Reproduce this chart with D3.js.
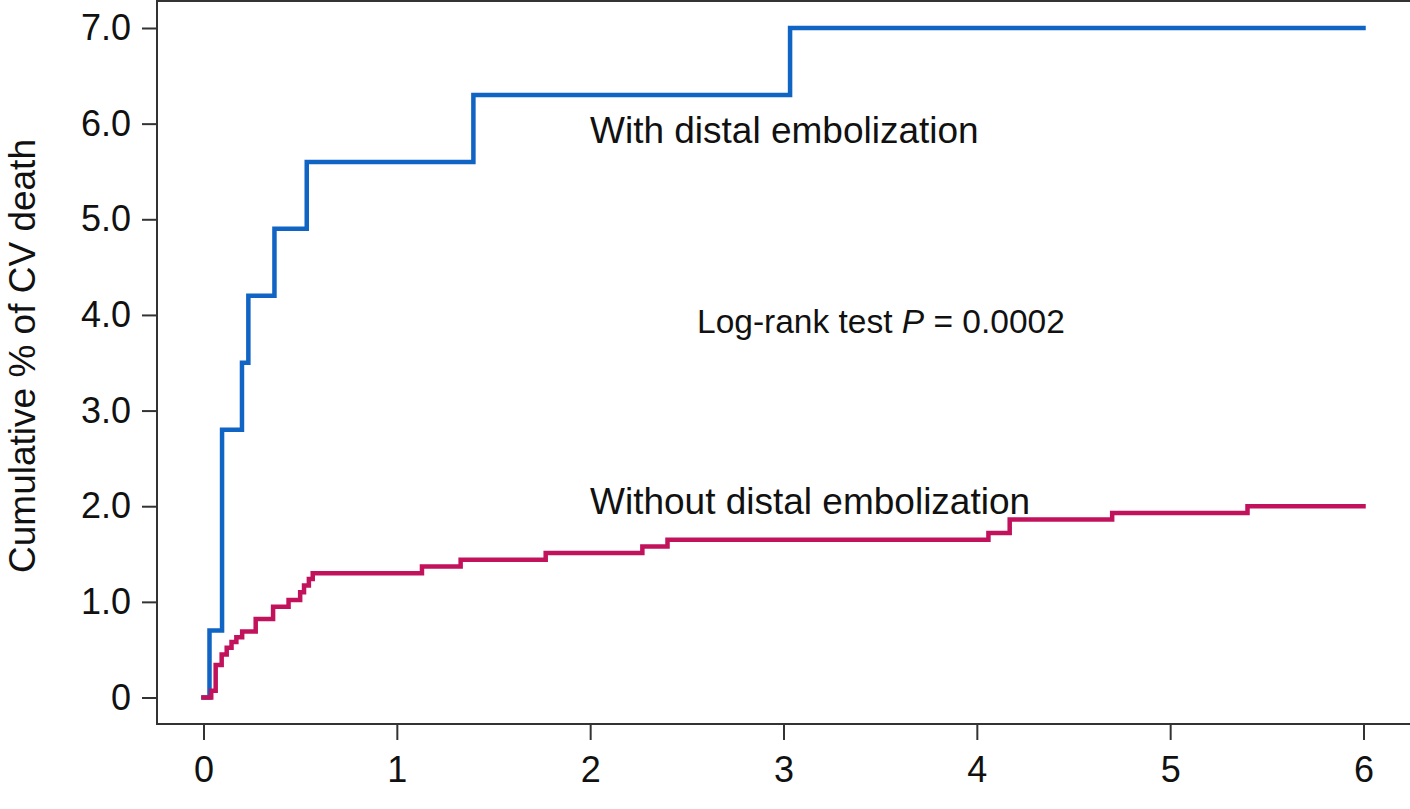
<!DOCTYPE html>
<html>
<head>
<meta charset="utf-8">
<script src="https://cdn.jsdelivr.net/npm/d3@7"></script>
<style>
  html, body { margin: 0; padding: 0; background: #fff; }
  svg { display: block; font-family: "Liberation Sans", Arial, sans-serif; }
</style>
</head>
<body>
<svg id="chart" width="1410" height="809"></svg>
<script>
// Kaplan-Meier style cumulative incidence of CV death (years of follow-up)
const timesWith = [0, 0.031, 0.096, 0.199, 0.232, 0.367, 0.534, 1.396, 3.034, 6.0];
const cumWith   = [0, 0.7,   2.8,   3.5,   4.2,   4.9,   5.6,   6.3,   7.0,   7.0];

const timesWithout = [0, 0.04, 0.063, 0.094, 0.12, 0.145, 0.17, 0.2, 0.27, 0.36, 0.44, 0.5, 0.52, 0.545, 0.565,
                      1.13, 1.33, 1.77, 2.27, 2.40, 4.06, 4.17, 4.70, 5.40, 6.0];
const cumWithout   = [0, 0.07, 0.34, 0.45, 0.52, 0.58, 0.63, 0.69, 0.82, 0.95, 1.02, 1.10, 1.17, 1.24, 1.30,
                      1.37, 1.44, 1.51, 1.58, 1.65, 1.72, 1.86, 1.93, 2.00, 2.00];

const xTicks = [0, 1, 2, 3, 4, 5, 6];
const yTicks = [0, 1, 2, 3, 4, 5, 6, 7];
const yTickLabels = ["0", "1.0", "2.0", "3.0", "4.0", "5.0", "6.0", "7.0"];

const seriesNames = ["With distal embolization", "Without distal embolization"];
const yTitle = "Cumulative % of CV death";

const svg = d3.select("#chart");

const x = d3.scaleLinear().domain([0, 6]).range([203.5, 1363.5]);
const y = d3.scaleLinear().domain([0, 7]).range([697.5, 28]);

const axisColor = "#333";
const frame = { left: 157, top: 1, right: 1412, bottom: 724 };

// plot frame
svg.append("rect")
  .attr("x", frame.left).attr("y", frame.top)
  .attr("width", frame.right - frame.left).attr("height", frame.bottom - frame.top)
  .attr("fill", "none").attr("stroke", axisColor).attr("stroke-width", 2);

// y axis
const yAxis = d3.axisLeft(y).tickValues(yTicks)
  .tickFormat((d, i) => yTickLabels[i]).tickSize(15).tickPadding(11);
const gy = svg.append("g").attr("transform", `translate(${frame.left},0)`).call(yAxis);
gy.select(".domain").remove();
gy.selectAll(".tick line").attr("stroke", axisColor).attr("stroke-width", 2);
gy.selectAll(".tick text").attr("fill", "#111").style("font-size", "36px");

// x axis
const xAxis = d3.axisBottom(x).tickValues(xTicks).tickFormat(d3.format("d"))
  .tickSize(16).tickPadding(16);
const gx = svg.append("g").attr("transform", `translate(0,${frame.bottom})`).call(xAxis);
gx.select(".domain").remove();
gx.selectAll(".tick line").attr("stroke", axisColor).attr("stroke-width", 2);
gx.selectAll(".tick text").attr("fill", "#111").style("font-size", "36px");

// y axis title
svg.append("text")
  .attr("transform", "translate(35,356) rotate(-90)")
  .attr("text-anchor", "middle")
  .style("font-size", "37px").attr("fill", "#111")
  .text(yTitle);

// step curves
const step = d3.line().x(d => x(d[0])).y(d => y(d[1])).curve(d3.curveStepAfter);

svg.append("path")
  .datum(d3.zip(timesWith, cumWith))
  .attr("d", step)
  .attr("fill", "none").attr("stroke", "#1064C4").attr("stroke-width", 4.5)
  .attr("stroke-linejoin", "miter").attr("stroke-linecap", "square");

svg.append("path")
  .datum(d3.zip(timesWithout, cumWithout))
  .attr("d", step)
  .attr("fill", "none").attr("stroke", "#C2125C").attr("stroke-width", 4.5)
  .attr("stroke-linejoin", "miter").attr("stroke-linecap", "square");

// curve labels
svg.append("text").attr("x", 590).attr("y", 143)
  .style("font-size", "37px").attr("fill", "#111").text(seriesNames[0]);
svg.append("text").attr("x", 590).attr("y", 514)
  .style("font-size", "37px").attr("fill", "#111").text(seriesNames[1]);

// test statistic
const stat = svg.append("text").attr("x", 697).attr("y", 333)
  .style("font-size", "33.5px").attr("fill", "#111");
stat.append("tspan").text("Log-rank test ");
stat.append("tspan").style("font-style", "italic").text("P");
stat.append("tspan").text(" = 0.0002");
</script>
</body>
</html>
